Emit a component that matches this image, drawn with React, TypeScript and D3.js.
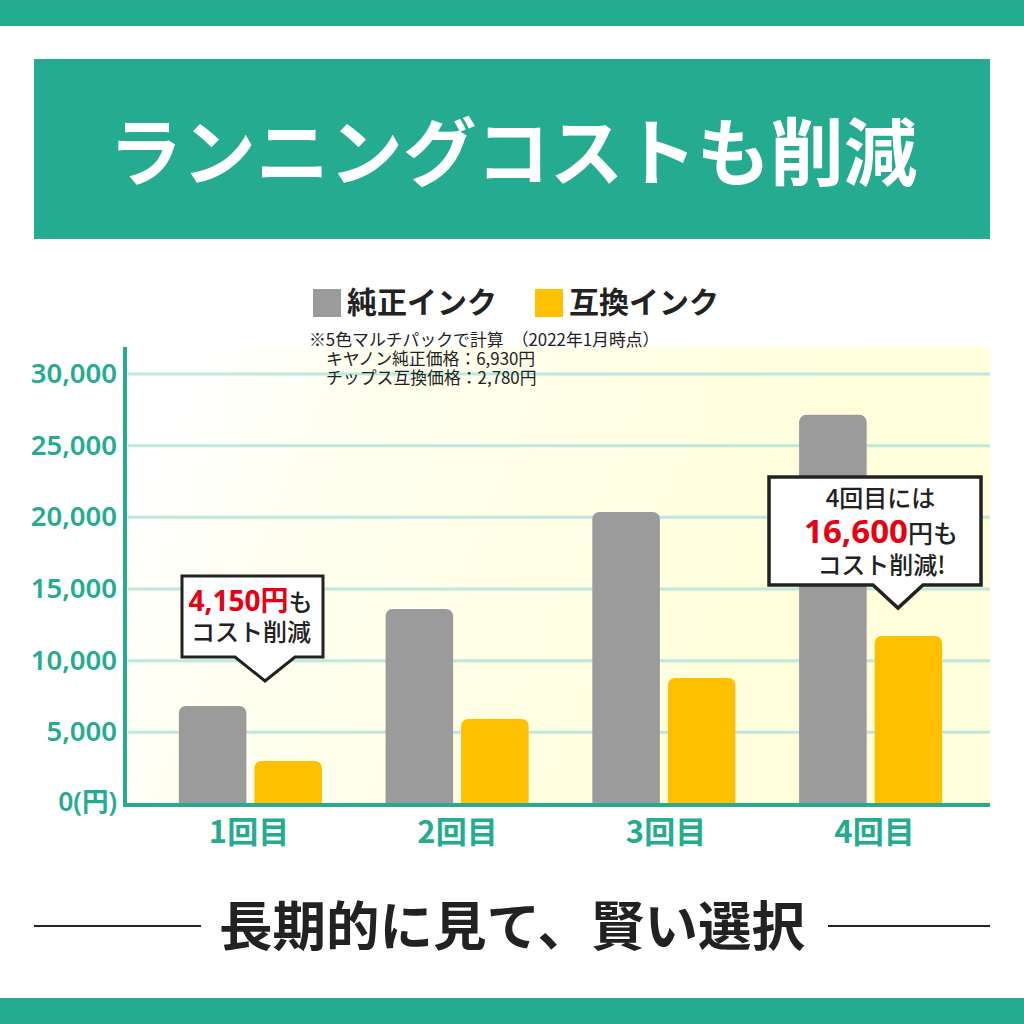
import * as d3 from "d3"

const rounds = ["1回目", "2回目", "3回目", "4回目"]
const seriesNames = ["純正インク", "互換インク"]
const genuine = [6840, 13600, 20370, 27150]
const compatible = [3000, 5930, 8790, 11720]
const yTicks = [0, 5000, 10000, 15000, 20000, 25000, 30000]

const GREEN = "#25ab8f"
const GREY = "#9b9b9b"
const YELLOW = "#ffc000"
const DARK = "#222222"
const RED = "#e60012"
const FONT = "'Noto Sans CJK JP', 'Noto Sans', sans-serif"
const LATIN = "'Noto Sans', 'Noto Sans CJK JP', sans-serif"

const y = d3.scaleLinear().domain([0, 30000]).range([804, 374])
const x = d3.scaleBand<string>().domain(rounds).range([147, 974]).paddingInner(0.308).paddingOuter(0.154)
const xSeries = d3.scaleBand<string>().domain(seriesNames).range([0, x.bandwidth()]).paddingInner(0.106)
// the category labels sit on a slightly wider step than the bars
const xLabel = d3.scalePoint<string>().domain(rounds).range([249, 874.5])

function barPath(x0: number, x1: number, top: number, bottom: number, r: number) {
  const p = d3.path()
  p.moveTo(x0, bottom)
  p.lineTo(x0, top + r)
  p.arcTo(x0, top, x0 + r, top, r)
  p.lineTo(x1 - r, top)
  p.arcTo(x1, top, x1, top + r, r)
  p.lineTo(x1, bottom)
  p.closePath()
  return p.toString()
}

function callout(left: number, top: number, right: number, bottom: number, tipX: number, tipHalf: number, tipY: number) {
  const p = d3.path()
  p.moveTo(left, top)
  p.lineTo(right, top)
  p.lineTo(right, bottom)
  p.lineTo(tipX + tipHalf, bottom)
  p.lineTo(tipX, tipY)
  p.lineTo(tipX - tipHalf, bottom)
  p.lineTo(left, bottom)
  p.closePath()
  return p.toString()
}

export default function App() {
  return (
    <svg
      width={1024}
      height={1024}
      viewBox="0 0 1024 1024"
      style={{ position: "absolute", left: 0, top: 0, background: "#fff" }}
      fontFamily={FONT}
    >
      <defs>
        <linearGradient id="plotBg" gradientUnits="userSpaceOnUse" x1={200} y1={347} x2={800} y2={600}>
          <stop offset="0" stopColor="#ffffff" />
          <stop offset="0.2" stopColor="#fffff2" />
          <stop offset="1" stopColor="#ffffdb" />
        </linearGradient>
      </defs>

      <rect x={0} y={0} width={1024} height={26} fill={GREEN} />
      <rect x={0} y={998} width={1024} height={26} fill={GREEN} />
      <rect x={34} y={59} width={956} height={180} fill={GREEN} />
      <text x={513} y={180} textAnchor="middle" fontSize={73.5} fontWeight={700} fill="#fff">
        ランニングコストも削減
      </text>

      {/* legend */}
      <rect x={313} y={289} width={28} height={28} fill={GREY} />
      <text x={347} y={313} fontSize={30} fontWeight={700} fill={DARK}>
        {seriesNames[0]}
      </text>
      <rect x={535} y={289} width={28} height={28} fill={YELLOW} />
      <text x={569} y={313} fontSize={30} fontWeight={700} fill={DARK}>
        {seriesNames[1]}
      </text>

      {/* plot */}
      <rect x={125} y={347} width={865} height={457} fill="url(#plotBg)" />
      {yTicks.slice(1).map((t) => (
        <line key={t} x1={128} x2={990} y1={y(t)} y2={y(t)} stroke="#bce8de" strokeWidth={3} />
      ))}
      {yTicks.map((t) => (
        <text
          key={t}
          x={117}
          y={y(t) + (t === 0 ? 7 : 9)}
          textAnchor="end"
          fontFamily={LATIN}
          fontSize={t === 0 ? 26.5 : 27.5}
          fontWeight={600}
          fill={GREEN}
        >
          {t === 0 ? "0(円)" : d3.format(",")(t)}
        </text>
      ))}

      {rounds.map((r, i) => {
        const gx = x(r) ?? 0
        const g0 = gx + (xSeries(seriesNames[0]) ?? 0)
        const g1 = gx + (xSeries(seriesNames[1]) ?? 0)
        return (
          <g key={r}>
            <path d={barPath(g0, g0 + xSeries.bandwidth(), y(genuine[i]), y(0), 7)} fill={GREY} />
            <path d={barPath(g1, g1 + xSeries.bandwidth(), y(compatible[i]), y(0), 7)} fill={YELLOW} />
            <text x={xLabel(r)} y={843} textAnchor="middle" fontSize={31} fontWeight={700} fill={GREEN}>
              {r}
            </text>
          </g>
        )
      })}

      <line x1={125} x2={125} y1={347} y2={807} stroke={GREEN} strokeWidth={4} />
      <line x1={123} x2={990} y1={805} y2={805} stroke={GREEN} strokeWidth={4} />

      {/* note */}
      <g fontSize={16.85} fontWeight={400} fill={DARK}>
        <text x={309} y={346}>
          ※5色マルチパックで計算<tspan dx={8}>（2022年1月時点）</tspan>
        </text>
        <text x={326} y={365}>キヤノン純正価格：6,930円</text>
        <text x={326} y={384}>チップス互換価格：2,780円</text>
      </g>

      {/* callouts */}
      <path d={callout(182, 576, 323, 657, 265, 30, 681)} fill="#fff" stroke={DARK} strokeWidth={3} />
      <text x={250.5} y={611} textAnchor="middle" fontSize={28} fontWeight={700} fill={DARK}>
        <tspan fill={RED} fontFamily={LATIN}>4,150</tspan>
        <tspan fill={RED}>円</tspan>
        <tspan fontSize={24} fontWeight={500}>も</tspan>
      </text>
      <text x={251} y={641} textAnchor="middle" fontSize={24} fontWeight={500} fill={DARK}>
        コスト削減
      </text>

      <path d={callout(769, 477, 981, 585, 898, 25, 608)} fill="#fff" stroke={DARK} strokeWidth={3.5} />
      <text x={880.5} y={507} textAnchor="middle" fontSize={24} fontWeight={500} fill={DARK}>
        4回目には
      </text>
      <text x={881} y={543} textAnchor="middle" fontSize={33} fontWeight={700} fill={DARK}>
        <tspan fill={RED} fontFamily={LATIN}>16,600</tspan>
        <tspan fontSize={25} fontWeight={500}>円も</tspan>
      </text>
      <text x={881.5} y={574} textAnchor="middle" fontSize={24} fontWeight={500} fill={DARK}>
        コスト削減!
      </text>

      {/* footer */}
      <line x1={34} x2={201} y1={926} y2={926} stroke={DARK} strokeWidth={2} />
      <line x1={828} x2={990} y1={926} y2={926} stroke={DARK} strokeWidth={2} />
      <text x={512} y={946} textAnchor="middle" fontSize={53.5} fontWeight={700} fill={DARK}>
        長期的に見て、賢い選択
      </text>
    </svg>
  )
}
